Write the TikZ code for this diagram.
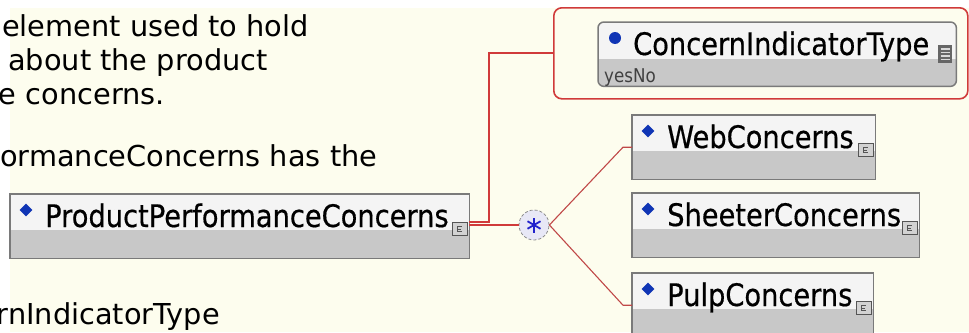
\documentclass[tikz,border=0pt]{standalone}
\usepackage{fontspec}
\setmainfont{DejaVu Sans}
\newfontfamily\boxfont[FakeStretch=0.88,FakeBold=0.5]{DejaVu Sans}
\newfontfamily\smallfont[FakeStretch=0.88]{DejaVu Sans}
\usetikzlibrary{shapes.geometric,calc}
\definecolor{cream}{HTML}{FDFDEE}
\definecolor{hdr}{HTML}{F4F4F4}
\definecolor{lowgrey}{HTML}{C8C8C8}
\definecolor{bordergrey}{HTML}{7A7A7A}
\definecolor{connred}{HTML}{D03A3A}
\definecolor{thinred}{HTML}{C04848}
\definecolor{diamblue}{HTML}{1035B5}
\definecolor{astblue}{HTML}{2222CC}
\definecolor{starfill}{HTML}{E8E8F6}
\definecolor{icongrey}{HTML}{D2D2D2}
\definecolor{icondark}{HTML}{555555}
\tikzset{
  desc/.style={font=\fontsize{28.8}{34}\selectfont, text=black, inner sep=0pt},
  lbl/.style={font=\boxfont\fontsize{31}{36}\selectfont, text=black, inner sep=0pt},
  smalllbl/.style={font=\smallfont\fontsize{19}{22}\selectfont, text=black!75, inner sep=0pt},
  ebox/.style={draw=none, minimum height=64pt, inner sep=0pt, anchor=north west},
  boxborder/.style={draw=bordergrey, line width=1.5pt},
  elemdiamond/.style={diamond, fill=diamblue, minimum width=13pt, minimum height=13pt, inner sep=0pt},
  cicon/.style={rectangle, fill=icongrey, draw=icondark, line width=0.8pt, minimum width=15pt, minimum height=13pt, inner sep=0pt},
  glyph/.style={draw=icondark, line width=0.9pt},
  conn/.style={draw=connred, line width=2.2pt},
  thinconn/.style={draw=thinred, line width=1.1pt},
}
\newcommand\elembox[5]{%
  \node[ebox, minimum width=#4pt] (#1) at (#2,#3) {};
  \fill[hdr] (#1.north west) rectangle (#1.south east);
  \fill[lowgrey] ([yshift=-36pt]#1.north west) rectangle (#1.south east);
  \draw[boxborder] (#1.north west) rectangle (#1.south east);
  \node[elemdiamond] (#1-d) at ($(#1.north west)+(16,16)$) {};
  \node[lbl, anchor=base west] (#1-t) at ($(#1.north west)+(35,33)$) {#5};
  \node[cicon] (#1-i) at ($(#1.north east)+(-10,35)$) {};
  \draw[glyph] ($(#1-i.center)+(2.5,-2.5)$) -- ++(-4,0) -- ++(0,5) -- ++(4,0);
  \draw[glyph] ($(#1-i.center)+(-1.5,0)$) -- ++(3,0);
}
\begin{document}
\begin{tikzpicture}[x=1pt,y=-1pt]
\useasboundingbox (0,0) rectangle (969,332);
\begin{scope}
\clip (0,0) rectangle (969,332);
\fill[white] (0,0) rectangle (969,332);
\fill[cream] (10,8) rectangle (969,332);

% description text
\node[desc, anchor=base west] (d1) at (2,36) {element used to hold};
\node[desc, anchor=base west] (d2) at (8,70) {about the product};
\node[desc, anchor=base east] (d3) at (165,104) {e concerns.};
\node[desc, anchor=base west] (d4) at (0,166) {ormanceConcerns has the};
\node[desc, anchor=base east] (d5) at (220,324) {rnIndicatorType};

% element boxes
\elembox{main}{10}{194}{459}{ProductPerformanceConcerns}
\elembox{web}{632}{115}{243}{WebConcerns}
\elembox{sheeter}{632}{193}{287}{SheeterConcerns}
\elembox{pulp}{632}{273}{241}{PulpConcerns}

% attribute group
\node[draw=connred, line width=1.6pt, rounded corners=8pt, minimum width=414pt, minimum height=91pt, anchor=north west, inner sep=0pt] (attr) at (553,7) {};
\node[ebox, minimum width=358pt] (cit) at (598,22) {};
\begin{scope}
  \clip[rounded corners=6pt] (cit.north west) rectangle (cit.south east);
  \fill[hdr] (cit.north west) rectangle (cit.south east);
  \fill[lowgrey] ([yshift=-37pt]cit.north west) rectangle (cit.south east);
\end{scope}
\draw[boxborder, rounded corners=6pt] (cit.north west) rectangle (cit.south east);
\node[circle, fill=diamblue, minimum size=12pt, inner sep=0pt] (cit-d) at ($(cit.north west)+(17,16)$) {};
\node[lbl, anchor=base west] (cit-t) at ($(cit.north west)+(35,33)$) {ConcernIndicatorType};
\node[smalllbl, anchor=base west] (cit-y) at ($(cit.north west)+(6,60)$) {yesNo};
\node[rectangle, fill=icondark!90, minimum width=14pt, minimum height=18pt, inner sep=0pt] (cit-i) at ($(cit.north east)+(-11,32)$) {};
\foreach \dy in {-5,-1.5,2,5.5}
  \draw[white!85!black, line width=1.2pt] ($(cit-i.west)+(2.5,\dy)$) -- ($(cit-i.east)+(-2.5,\dy)$);

% compositor
\node[circle, draw=black!45, densely dashed, line width=0.8pt, fill=starfill, minimum size=30pt, inner sep=0pt] (star) at (534,225) {};
\foreach \a in {90,30,150}
  \draw[astblue, line width=1.8pt] ($(star.center)+(\a:7.5)$) -- ($(star.center)+(\a+180:7.5)$);

% connectors
\draw[conn] ([yshift=-28pt]main.north east) -| ([xshift=-64pt]attr.west) -- (attr.west);
\draw[conn] ([yshift=-31pt]main.north east) -- (star.west);
\draw[thinconn] (star.east) -- ([xshift=-9pt]web.west) -- (web.west);
\draw[thinconn] (star.east) -- ([xshift=-9pt]pulp.west) -- (pulp.west);
\end{scope}
\end{tikzpicture}
\end{document}
